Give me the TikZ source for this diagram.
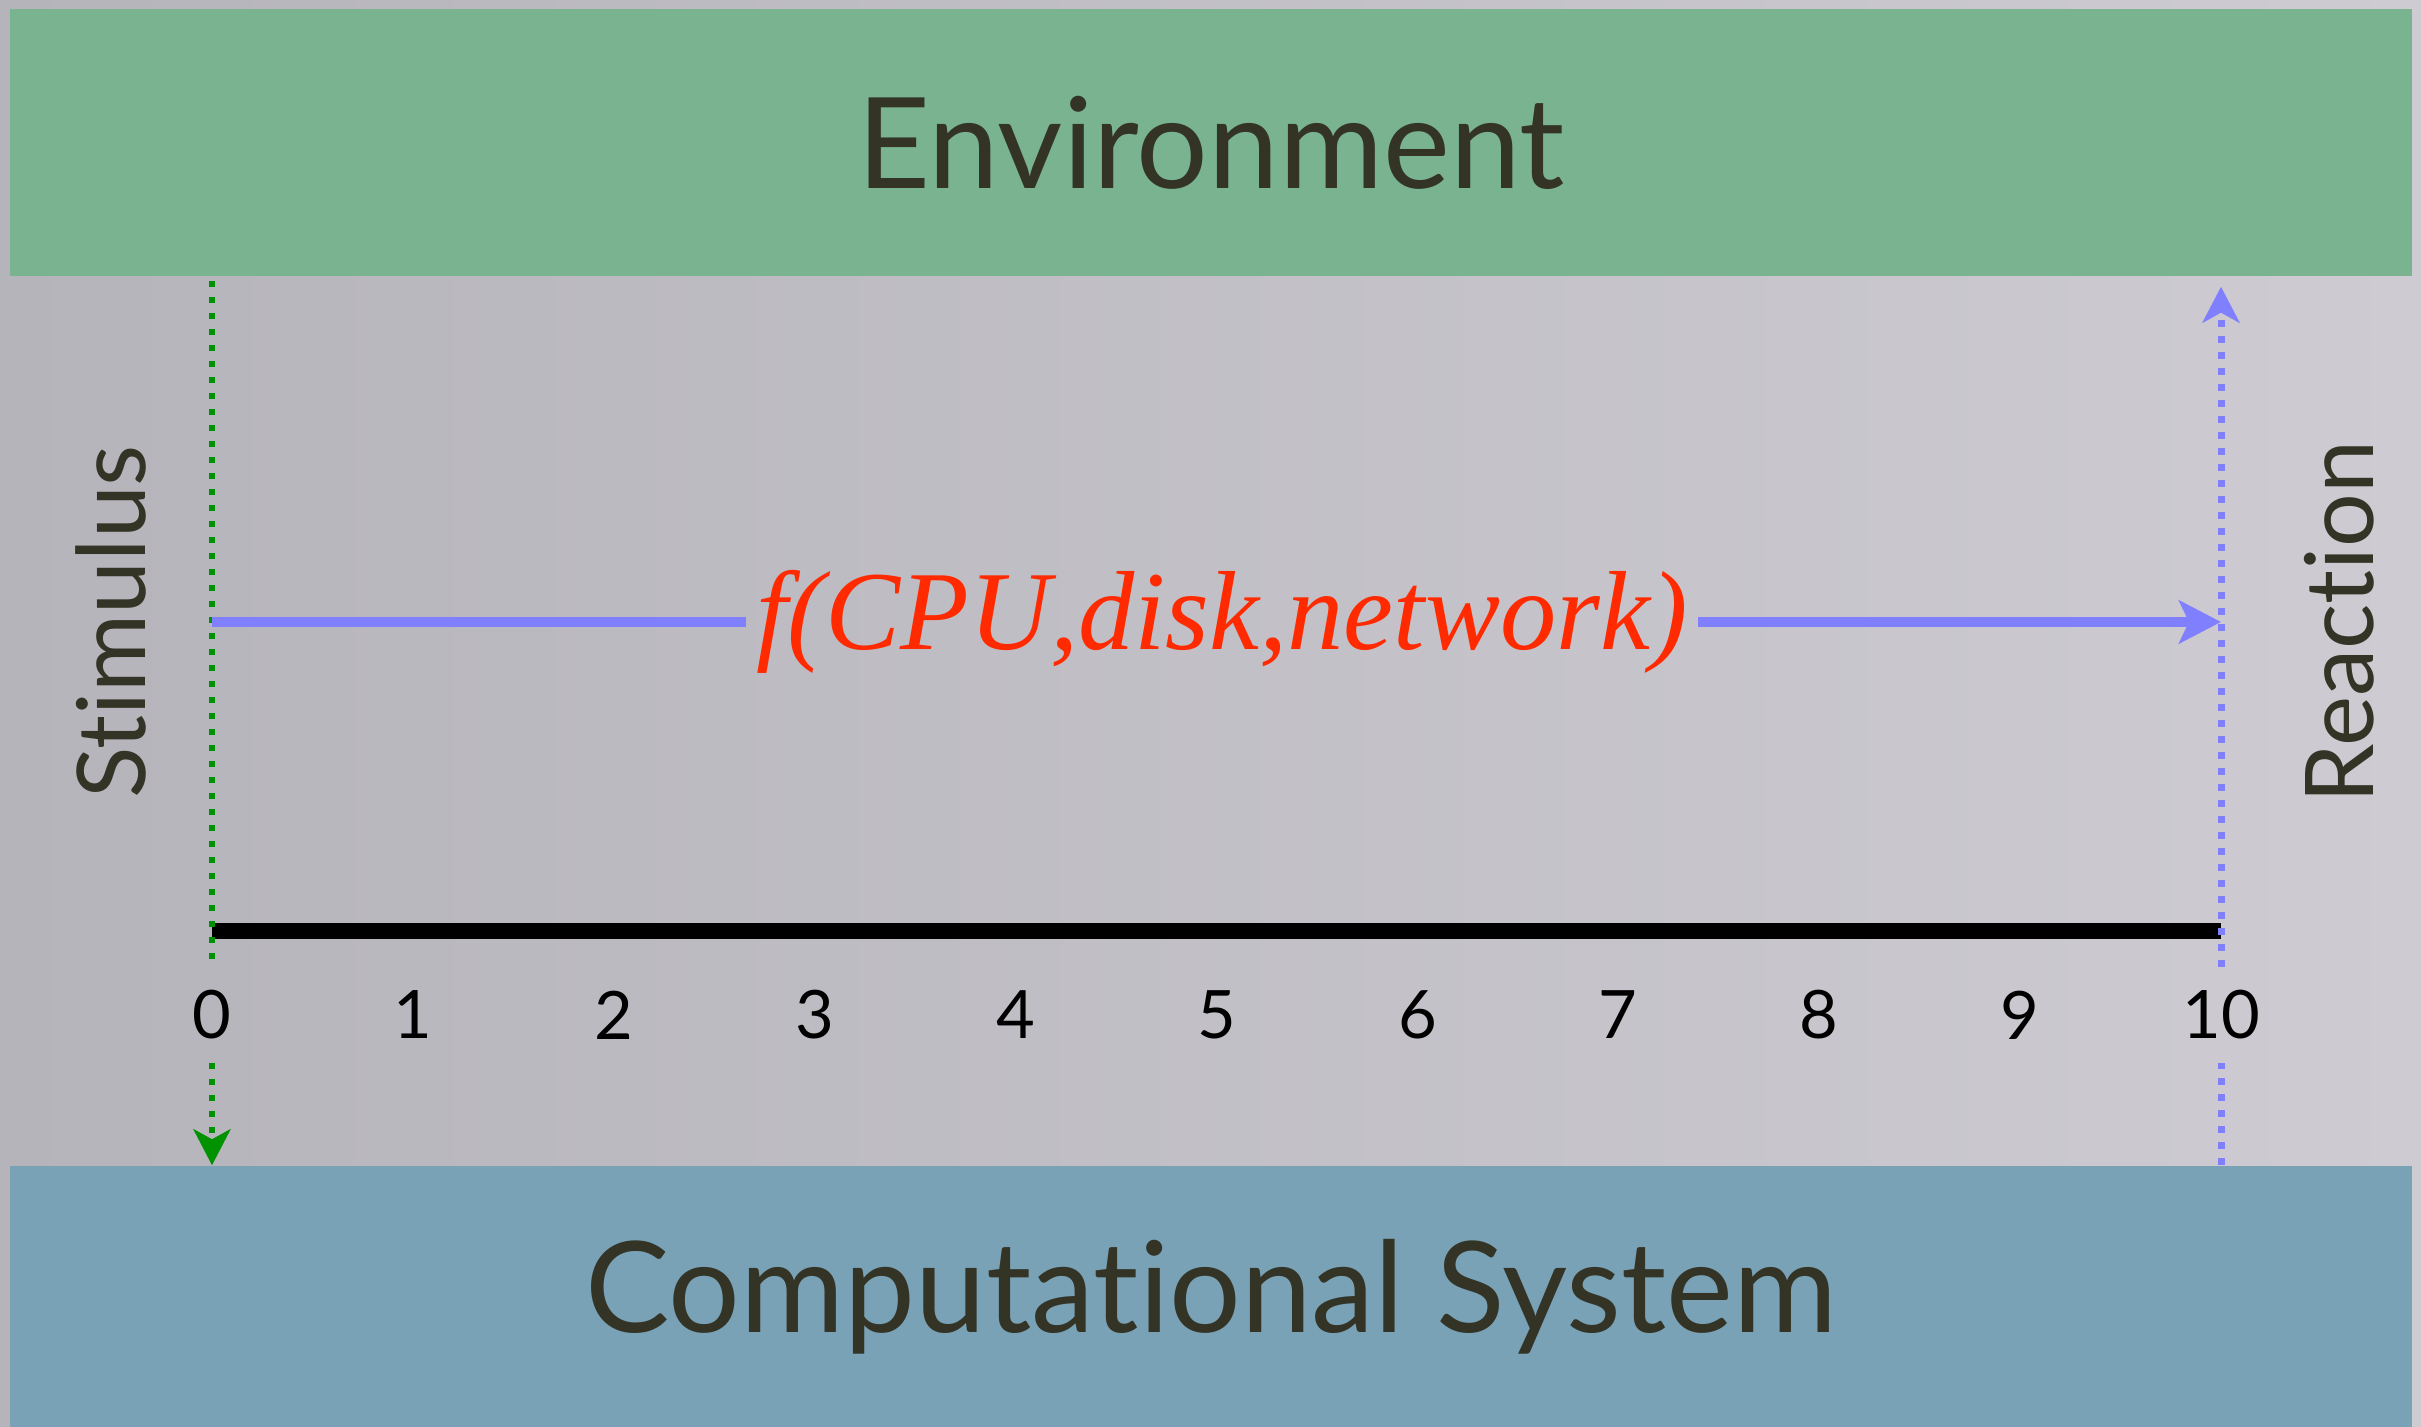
\documentclass[tikz,border=0pt]{standalone}
\usepackage{fontspec}
\setmainfont{Lato}[Ligatures=CommonOff]
\newfontfamily\fnfont{Liberation Serif}
\usetikzlibrary{arrows.meta}

\definecolor{metallight}{RGB}{206,204,210}
\definecolor{metaldark}{RGB}{182,180,187}
\definecolor{envgreen}{RGB}{122,179,144}
\definecolor{sysblue}{RGB}{121,162,183}
\definecolor{labeldark}{RGB}{52,52,38}
\definecolor{stimgreen}{RGB}{0,146,0}
\definecolor{reactblue}{RGB}{128,128,255}
\definecolor{fnred}{RGB}{255,42,0}

\begin{document}
\begin{tikzpicture}[
  band/.style={rectangle, minimum width=24.02cm, inner sep=0pt, text=labeldark, font=\fontsize{36}{40}\selectfont},
  side/.style={rotate=90, text=labeldark, font=\fontsize{27}{30}\selectfont},
  tick/.style={minimum height=0.94cm, inner sep=0pt, font=\fontsize{19}{20}\selectfont},
  stim/.style={stimgreen, line width=0.06cm, dash pattern=on 0.06cm off 0.1cm},
  react/.style={reactblue, line width=0.07cm, dash pattern=on 0.07cm off 0.09cm},
  head/.style={-{Stealth[length=0.36cm, width=0.37cm, inset=0.1cm]}}
]
% brushed metal background
\fill[left color=metaldark, right color=metallight] (0,0) rectangle (24.21,14.27);
\useasboundingbox (0,0) rectangle (24.21,14.27);

\node[band, fill=envgreen, minimum height=2.67cm] (env) at (12.11,12.845) {Environment};
\node[band, fill=sysblue, minimum height=2.61cm] (sys) at (12.11,1.305) {Computational System};

\node[side] (stimulus) at (1.11,8.05) {Stimulus};
\node[side] (reaction) at (23.39,8.05) {Reaction};

% time axis
\foreach \i in {0,...,10}
  \node[tick] (t\i) at ({2.12+2.009*\i},4.12) {\i};
\coordinate (axisL) at (2.12,4.96);
\coordinate (axisR) at (22.21,4.96);
\draw[line width=0.16cm] (axisL) -- (axisR);

% stimulus goes down, reaction goes up
\draw[stim, shorten <=0.04cm] (env.south -| t0) -- (t0.north);
\draw[stim, head] (t0.south) -- (sys.north -| t0);
\draw[react] (sys.north -| t10) -- (t10.south);
\draw[react, head, shorten >=0.1cm] (t10.north) -- (env.south -| t10);

% response time
\coordinate (fnL) at (2.12,8.05);
\coordinate (fnR) at (22.21,8.05);
\node[text=fnred, font=\fnfont\itshape\fontsize{32}{36}\selectfont, inner sep=0.1cm] (fn) at (12.22,8.05) {f(CPU,disk,network)};
\draw[reactblue, line width=0.1cm] (fnL) -- (fn.west);
\draw[reactblue, line width=0.1cm, -{Stealth[length=0.42cm, width=0.43cm, inset=0.1cm]}] (fn.east) -- (fnR);
\end{tikzpicture}
\end{document}
